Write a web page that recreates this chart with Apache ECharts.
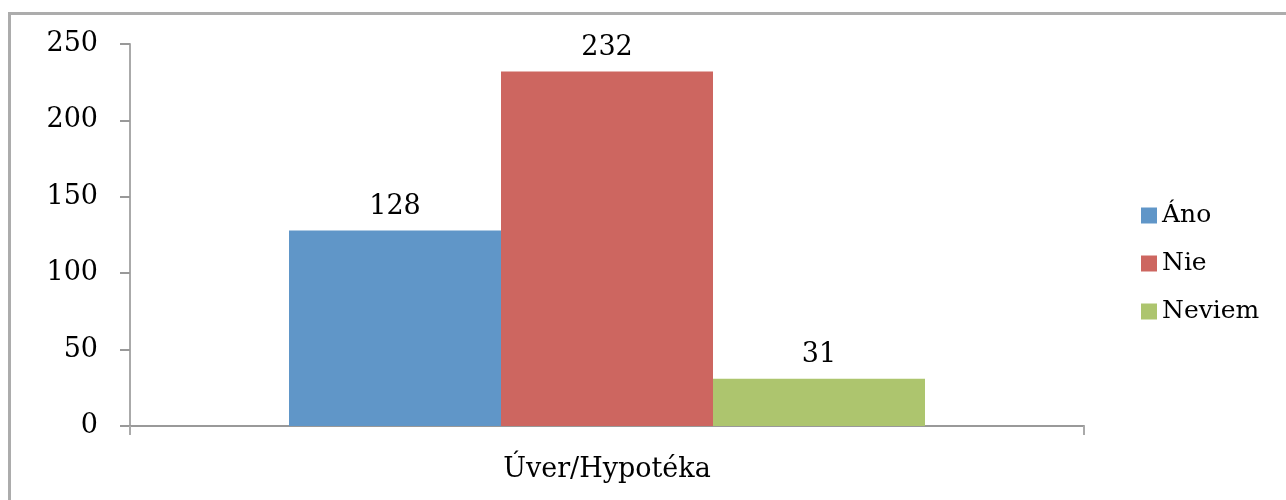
<!DOCTYPE html>
<html>
<head>
<meta charset="utf-8">
<script src="https://cdn.jsdelivr.net/npm/echarts@6/dist/echarts.min.js"></script>
<style>
html,body{margin:0;padding:0;background:#fff;}
#frame{position:absolute;left:8px;top:12px;width:1300px;height:520px;border:3px solid #acacac;box-sizing:border-box;}
#chart{position:absolute;left:0;top:0;width:1286px;height:500px;}
</style>
</head>
<body>
<div id="frame"></div>
<div id="chart"></div>
<script>
const categories = ['Úver/Hypotéka'];
const seriesNames = ['Áno', 'Nie', 'Neviem'];
const anoValues = [128];
const nieValues = [232];
const neviemValues = [31];
const yTicks = [0, 50, 100, 150, 200, 250];

const colors = ['#6096C8', '#CD6660', '#ADC56E'];
const font = '"DejaVu Serif", serif';
const fs = 27;
const chart = echarts.init(document.getElementById('chart'), null, {renderer: 'canvas'});
const valueSets = [anoValues, nieValues, neviemValues];
chart.setOption({
  animation: false,
  backgroundColor: 'transparent',
  textStyle: {fontFamily: font},
  grid: {left: 130, right: 202, top: 44, bottom: 74, containLabel: false},
  legend: {
    orient: 'vertical', left: 1136, top: 198,
    itemWidth: 16, itemHeight: 16, itemGap: 23,
    icon: 'rect',
    data: seriesNames,
    textStyle: {fontFamily: font, fontSize: 25, color: '#000', padding: [0,0,0,0]}
  },
  xAxis: {
    type: 'category', data: categories,
    axisLine: {lineStyle: {color: '#999', width: 2}},
    axisTick: {show: true, length: 9, lineStyle: {color: '#aaa', width: 2}},
    axisLabel: {fontFamily: font, fontSize: fs, color: '#000', margin: 30}
  },
  yAxis: {
    type: 'value', min: yTicks[0], max: yTicks[yTicks.length-1], interval: 50,
    axisLine: {show: true, lineStyle: {color: '#aaa', width: 2}},
    axisTick: {show: true, length: 10, lineStyle: {color: '#999', width: 2}},
    splitLine: {show: false},
    axisLabel: {fontFamily: font, fontSize: fs, color: '#000', margin: 32}
  },
  series: seriesNames.map((n, i) => ({
    name: n, type: 'bar', data: valueSets[i],
    barWidth: 212, barGap: '0%',
    itemStyle: {color: colors[i]},
    label: {show: true, position: 'top', distance: 10, fontFamily: font, fontSize: fs, color: '#000'}
  }))
});
</script>
</body>
</html>
